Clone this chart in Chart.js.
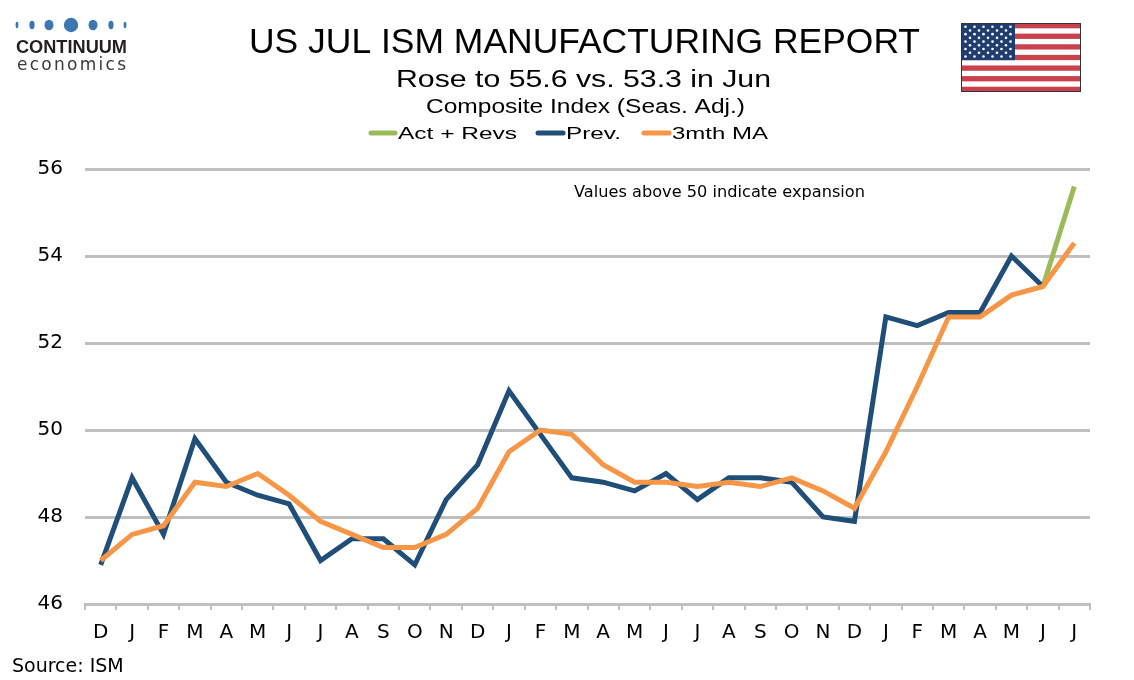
<!DOCTYPE html>
<html>
<head>
<meta charset="utf-8">
<title>US JUL ISM Manufacturing Report</title>
<script src="https://cdn.jsdelivr.net/npm/chart.js@4/dist/chart.umd.min.js"></script>
<style>
  html, body { margin: 0; padding: 0; background: #fff; }
  #wrap { width: 1134px; height: 680px; }
</style>
</head>
<body>
<div id="wrap"><canvas id="myChart" width="1134" height="680"></canvas></div>
<script>
// months, Dec to Jul (32 points)
const monthLabels = ['D','J','F','M','A','M','J','J','A','S','O','N',
                     'D','J','F','M','A','M','J','J','A','S','O','N',
                     'D','J','F','M','A','M','J','J'];

const actRevs = [null, null, null, null, null, null, null, null, null, null, null, null,
                 null, null, null, null, null, null, null, null, null, null, null, null,
                 null, null, null, null, null, null, 53.3, 55.6];

const prev = [46.9, 48.9, 47.6, 49.8, 48.8, 48.5, 48.3, 47.0, 47.5, 47.5, 46.9, 48.4,
              49.2, 50.9, 49.9, 48.9, 48.8, 48.6, 49.0, 48.4, 48.9, 48.9, 48.8, 48.0,
              47.9, 52.6, 52.4, 52.7, 52.7, 54.0, 53.3, null];

const ma3 = [47.0, 47.6, 47.8, 48.8, 48.7, 49.0, 48.5, 47.9, 47.6, 47.3, 47.3, 47.6,
             48.2, 49.5, 50.0, 49.9, 49.2, 48.8, 48.8, 48.7, 48.8, 48.7, 48.9, 48.6,
             48.2, 49.5, 51.0, 52.6, 52.6, 53.1, 53.3, 54.3];

const yMin = 46;
const yMax = 56;
const yStep = 2;

const GREEN = '#9bbb59';
const BLUE = '#1f4e79';
const ORANGE = '#f79646';
const GRID = '#bfbfbf';

// draw text so that it fills a given width (squeezed like the narrow original font)
function fitText(ctx, text, x, y, font, width, color) {
    ctx.save();
    ctx.font = font;
    ctx.fillStyle = color || '#000';
    ctx.textAlign = 'left';
    ctx.textBaseline = 'alphabetic';
    const w = ctx.measureText(text).width;
    ctx.translate(x, y);
    ctx.scale(width / w, 1);
    ctx.fillText(text, 0, 0);
    ctx.restore();
}

// spread letters over a width (logo sub text)
function spacedText(ctx, text, x, y, font, width, color) {
    ctx.save();
    ctx.font = font;
    ctx.fillStyle = color;
    ctx.textBaseline = 'alphabetic';
    const widths = text.split('').map(c => ctx.measureText(c).width);
    const total = widths.reduce((a, b) => a + b, 0);
    const gap = (width - total) / (text.length - 1);
    let cx = x;
    text.split('').forEach((c, i) => {
        ctx.fillText(c, cx, y);
        cx += widths[i] + gap;
    });
    ctx.restore();
}

function drawLogo(ctx) {
    const dots = [[17, 1.4, 3.2], [32, 2.6, 4.2], [49, 4.5, 5.2], [71, 7.2, 7.2],
                  [93, 4.5, 5.2], [111, 2.6, 4.2], [125, 1.4, 3.2]];
    ctx.save();
    ctx.fillStyle = '#3b78b0';
    dots.forEach(d => {
        ctx.beginPath();
        ctx.ellipse(d[0], 25, d[1], d[2], 0, 0, Math.PI * 2);
        ctx.fill();
    });
    ctx.restore();
    fitText(ctx, 'CONTINUUM', 16, 53, 'bold 19px "Liberation Sans", Arial, sans-serif', 111, '#231f20');
    spacedText(ctx, 'economics', 17, 70, '17px "DejaVu Sans", sans-serif', 109, '#3a3a3a');
}

function drawFlag(ctx) {
    const x = 961, y = 23, w = 120, h = 69;
    const sh = h / 13;
    ctx.save();
    ctx.fillStyle = '#ffffff';
    ctx.fillRect(x, y, w, h);
    ctx.fillStyle = '#c8414d';
    for (let i = 0; i < 13; i += 2) {
        ctx.fillRect(x, y + i * sh, w, sh);
    }
    const cw = 54, ch = sh * 7;
    ctx.fillStyle = '#1f3d6e';
    ctx.fillRect(x, y, cw, ch);
    ctx.fillStyle = '#ffffff';
    for (let r = 0; r < 9; r++) {
        const n = r % 2 === 0 ? 6 : 5;
        for (let c = 0; c < n; c++) {
            const sx = x + cw / 12 * (r % 2 === 0 ? 2 * c + 1 : 2 * c + 2);
            const sy = y + ch / 10 * (r + 1);
            ctx.beginPath();
            ctx.arc(sx, sy, 1.3, 0, Math.PI * 2);
            ctx.fill();
        }
    }
    ctx.strokeStyle = '#333';
    ctx.lineWidth = 1;
    ctx.strokeRect(x + 0.5, y + 0.5, w - 1, h - 1);
    ctx.restore();
}

const headerPlugin = {
    id: 'header',
    afterDraw(chart) {
        const ctx = chart.ctx;
        drawLogo(ctx);
        drawFlag(ctx);

        fitText(ctx, 'US JUL ISM MANUFACTURING REPORT', 249, 53, '35px "Liberation Sans", Arial, sans-serif', 671);
        fitText(ctx, 'Rose to 55.6 vs. 53.3 in Jun', 396, 87, '23px "Liberation Sans", Arial, sans-serif', 375);
        fitText(ctx, 'Composite Index (Seas. Adj.)', 426, 113, '20px "Liberation Sans", Arial, sans-serif', 319);

        // legend
        const legendPos = [[369, 398, 119], [536, 566, 55], [642, 672, 96]];
        chart.data.datasets.forEach((ds, i) => {
            const p = legendPos[i];
            ctx.save();
            ctx.strokeStyle = ds.borderColor;
            ctx.lineWidth = 5;
            ctx.lineCap = 'round';
            ctx.beginPath();
            ctx.moveTo(p[0] + 2, 133);
            ctx.lineTo(p[1] - 3, 133);
            ctx.stroke();
            ctx.restore();
            fitText(ctx, ds.label, p[1], 139, '17px "Liberation Sans", Arial, sans-serif', p[2]);
        });

        // note inside the plot
        fitText(ctx, 'Values above 50 indicate expansion', 574, 197, '15px "DejaVu Sans", sans-serif', 291);

        ctx.save();
        ctx.font = '19px "DejaVu Sans", sans-serif';
        ctx.fillStyle = '#000';
        ctx.fillText('Source: ISM', 12, 672);
        ctx.restore();
    }
};

document.addEventListener('DOMContentLoaded', () => {
    const ctx = document.getElementById('myChart').getContext('2d');
    window.myGraph = new Chart(ctx, {
        type: 'line',
        data: {
            labels: monthLabels,
            datasets: [
                {
                    label: 'Act + Revs',
                    data: actRevs,
                    borderColor: GREEN,
                    backgroundColor: GREEN,
                    borderWidth: 5,
                    pointRadius: 0,
                    tension: 0,
                    spanGaps: false,
                    order: 2
                },
                {
                    label: 'Prev.',
                    data: prev,
                    borderColor: BLUE,
                    backgroundColor: BLUE,
                    borderWidth: 5,
                    pointRadius: 0,
                    tension: 0,
                    order: 1
                },
                {
                    label: '3mth MA',
                    data: ma3,
                    borderColor: ORANGE,
                    backgroundColor: ORANGE,
                    borderWidth: 5,
                    pointRadius: 0,
                    tension: 0,
                    order: 0
                }
            ]
        },
        options: {
            responsive: false,
            animation: false,
            layout: {
                padding: { top: 169, right: 44, bottom: 0, left: 0 }
            },
            scales: {
                x: {
                    offset: true,
                    grid: {
                        offset: true,
                        drawOnChartArea: false,
                        drawTicks: true,
                        tickLength: 6,
                        color: GRID,
                        lineWidth: 2
                    },
                    border: { color: GRID, width: 3 },
                    ticks: {
                        autoSkip: false,
                        maxRotation: 0,
                        padding: 11,
                        color: '#000',
                        font: { family: '"DejaVu Sans", Verdana, sans-serif', size: 20 }
                    },
                    afterFit(scale) { scale.height = 76; }
                },
                y: {
                    min: yMin,
                    max: yMax,
                    grid: {
                        color: GRID,
                        lineWidth: 3,
                        drawTicks: false
                    },
                    border: { display: false },
                    ticks: {
                        stepSize: yStep,
                        padding: 22,
                        color: '#000',
                        font: { family: '"DejaVu Sans", Verdana, sans-serif', size: 20 }
                    },
                    afterFit(scale) { scale.width = 85; }
                }
            },
            plugins: {
                legend: { display: false },
                title: { display: false },
                tooltip: { enabled: false }
            }
        },
        plugins: [headerPlugin]
    });
});
</script>
</body>
</html>
